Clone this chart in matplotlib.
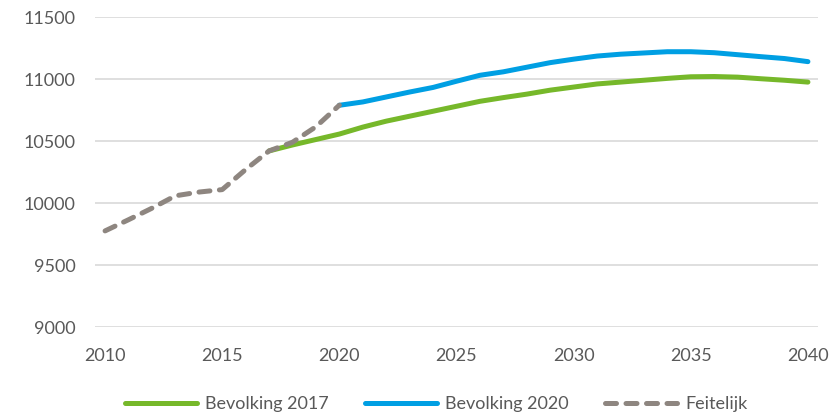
import matplotlib
matplotlib.use("Agg")
import matplotlib.pyplot as plt

# data
years_2017 = list(range(2017, 2041))
bevolking_2017 = [10420, 10468, 10512, 10556, 10612, 10660, 10700, 10740, 10780,
                  10820, 10850, 10878, 10910, 10935, 10960, 10975, 10990, 11005,
                  11018, 11020, 11015, 11002, 10990, 10975]

years_2020 = list(range(2020, 2041))
bevolking_2020 = [10788, 10815, 10855, 10895, 10932, 10982, 11030, 11058, 11095,
                  11132, 11160, 11185, 11200, 11210, 11220, 11220, 11212, 11196,
                  11180, 11165, 11140]

years_feit = list(range(2010, 2021))
feitelijk = [9775, 9865, 9958, 10058, 10088, 10108, 10270, 10420, 10490, 10615, 10789]

yticks = [9000, 9500, 10000, 10500, 11000, 11500]
xticks = [2010, 2015, 2020, 2025, 2030, 2035, 2040]

GREEN = "#76b82a"
BLUE = "#009fe3"
GRAY = "#8e8680"
TEXT = "#595959"

plt.rcParams["font.family"] = ["Lato", "DejaVu Sans"]

fig = plt.figure(figsize=(8.39, 4.16), dpi=100)
ax = fig.add_axes([95 / 839, 1 - 327 / 416, 723 / 839, 310 / 416])

ax.plot(years_2017, bevolking_2017, color=GREEN, lw=3.6, solid_capstyle="round",
        label="Bevolking 2017", zorder=3)
ax.plot(years_2020, bevolking_2020, color=BLUE, lw=3.6, solid_capstyle="round",
        label="Bevolking 2020", zorder=3)
ax.plot(years_feit, feitelijk, color=GRAY, lw=3.6, dashes=(2.2, 1.9),
        dash_capstyle="round", label="Feitelijk", zorder=4)

ax.set_xlim(2009.57, 2040.43)
ax.set_ylim(9000, 11500)
ax.set_xticks(xticks)
ax.set_yticks(yticks)
ax.yaxis.grid(True, color="#d9d9d9", lw=1.2)
ax.set_axisbelow(True)
for s in ax.spines.values():
    s.set_visible(False)
ax.tick_params(axis="both", length=0, labelsize=13, labelcolor=TEXT)
ax.tick_params(axis="y", pad=14)
ax.tick_params(axis="x", pad=15)

fig.legend(loc="center", bbox_to_anchor=(436 / 839, 1 - 404 / 416), ncol=3, frameon=False,
           fontsize=13, handlelength=4.0, handletextpad=0.45, columnspacing=2.0,
           labelcolor=TEXT)

fig.savefig("out.png", dpi=100, facecolor="white")
